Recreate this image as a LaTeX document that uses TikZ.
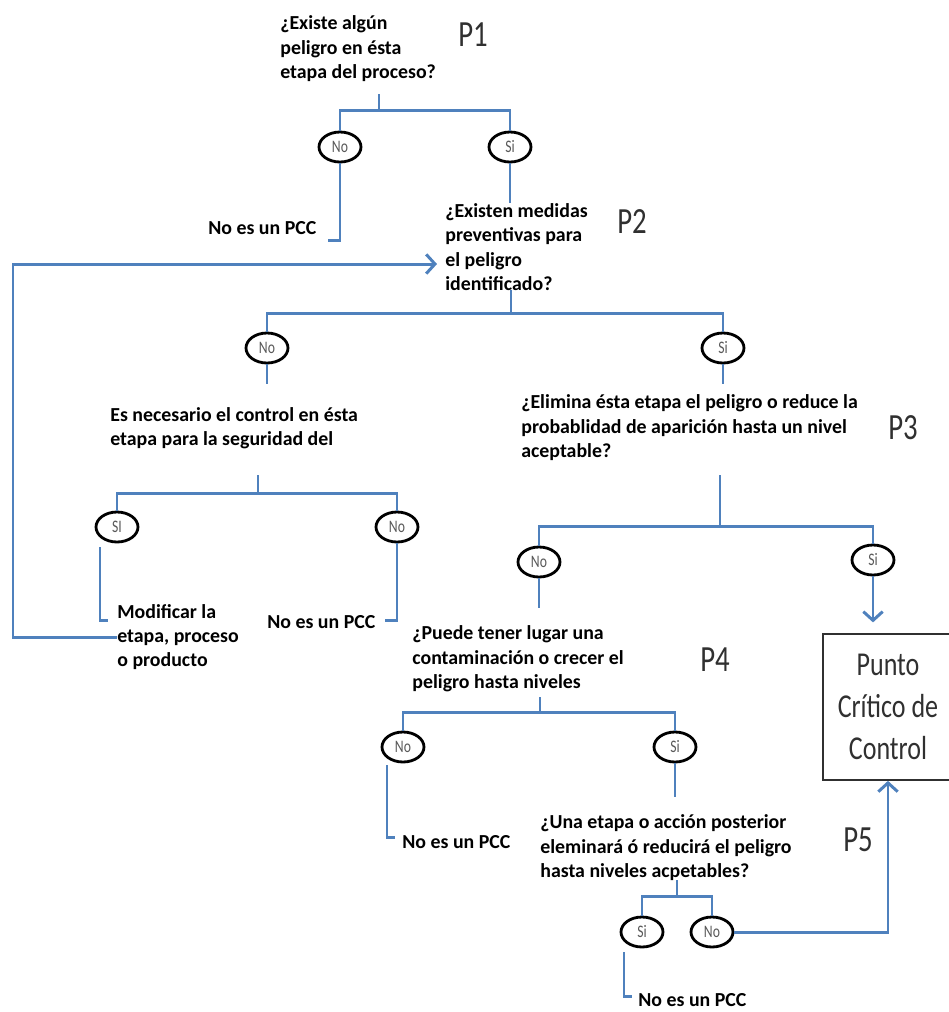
\documentclass[tikz,border=0pt]{standalone}
\usepackage{fontspec}
\setmainfont{Carlito}
\newfontfamily\narrowfont[FakeStretch=0.78]{Carlito}
\usetikzlibrary{shapes.geometric,arrows.meta}
\definecolor{linkblue}{HTML}{4F81BD}
\definecolor{labelgray}{HTML}{303030}
\definecolor{answergray}{HTML}{595959}
\tikzset{
    link/.style={linkblue,line width=1.7pt},
    arrowed/.style={-{Straight Barb[length=5pt,width=11pt]}},
    answer/.style={ellipse,draw=black,line width=1.6pt,minimum width=0.84cm,minimum height=0.6cm,inner sep=0pt,font=\narrowfont\fontsize{10}{10}\selectfont,text=answergray},
    question/.style={anchor=west,align=left,inner sep=0pt,font=\bfseries\fontsize{11.3}{13.9}\selectfont},
    qlabel/.style={font=\narrowfont\fontsize{21}{21}\selectfont,text=labelgray},
    pccbox/.style={draw=labelgray,line width=1pt,minimum width=2.6cm,minimum height=2.92cm,align=center,font=\narrowfont\fontsize{19}{24}\selectfont,text=labelgray}
}
\begin{document}
\begin{tikzpicture}[x=0.02cm,y=-0.02cm]
    \useasboundingbox (0,0) rectangle (948,1012);
    \node[question] (q1) at (280,49) {¿Existe algún\\peligro en ésta\\etapa del proceso?};
    \node[qlabel] (p1) at (473,35) {P1};
    \node[answer] (a1no) at (340,147) {No};
    \node[answer] (a1si) at (510,147) {Si};
    \node[question] (n1) at (208,228) {No es un PCC};
    \node[question] (q2) at (445,247) {¿Existen medidas\\preventivas para\\el peligro\\identificado?};
    \node[qlabel] (p2) at (632,222) {P2};
    \node[answer] (a2no) at (267,348) {No};
    \node[answer] (a2si) at (723,348) {Si};
    \node[question] (q2b) at (110,428) {Es necesario el control en ésta\\etapa para la seguridad del};
    \node[answer] (b2si) at (117,527) {SI};
    \node[answer] (b2no) at (397,527) {No};
    \node[question] (mod) at (117,637) {Modificar la\\etapa, proceso\\o producto};
    \node[question] (n2) at (267,622) {No es un PCC};
    \node[question] (q3) at (521,428) {¿Elimina ésta etapa el peligro o reduce la\\probablidad de aparición hasta un nivel\\aceptable?};
    \node[qlabel] (p3) at (903,428) {P3};
    \node[answer] (a3no) at (539,562) {No};
    \node[answer] (a3si) at (873,560) {Si};
    \node[pccbox] (pcc) at (888,707) {Punto\\Crítico de\\Control};
    \node[question] (q4) at (412,659) {¿Puede tener lugar una\\contaminación o crecer el\\peligro hasta niveles};
    \node[qlabel] (p4) at (715,660) {P4};
    \node[answer] (a4no) at (403,747) {No};
    \node[answer] (a4si) at (675,747) {Si};
    \node[question] (n3) at (402,842) {No es un PCC};
    \node[question] (q5) at (540,848) {¿Una etapa o acción posterior\\eleminará ó reducirá el peligro\\hasta niveles acpetables?};
    \node[qlabel] (p5) at (858,840) {P5};
    \node[answer] (a5si) at (642,932) {Si};
    \node[answer] (a5no) at (712,932) {No};
    \node[question] (n4) at (638,1000) {No es un PCC};

    \coordinate (s1) at (379,94);
    \coordinate (j1) at (379,110);
    \coordinate (e1) at (328,240);
    \draw[link] (s1) -- (j1);
    \draw[link] (a1no.north) |- (j1) -| (a1si.north);
    \draw[link] (a1no.south) |- (e1);
    \draw[link] (a1si.south) -- (a1si.south |- q2.north);

    \coordinate (s2) at (511,290);
    \coordinate (j2) at (511,313);
    \draw[link] (s2) -- (j2);
    \draw[link] (a2no.north) |- (j2) -| (a2si.north);
    \draw[link] (a2no.south) -- ++(0,20);
    \draw[link] (a2si.south) -- ++(0,20);

    \coordinate (s3) at (258,475);
    \coordinate (j3) at (258,493);
    \coordinate (e2) at (108,620);
    \coordinate (e3) at (385,620);
    \draw[link] (s3) -- (j3);
    \draw[link] (b2si.north) |- (j3) -| (b2no.north);
    \draw[link] (b2si.south) ++(-17,4) |- (e2);
    \draw[link] (b2no.south) |- (e3);

    \coordinate (f1) at (13,264);
    \coordinate (f2) at (437,264);
    \draw[link,arrowed] (mod.west) -| (f1) -- (f2);

    \coordinate (s4) at (720,475);
    \coordinate (j4) at (720,526);
    \draw[link] (s4) -- (j4);
    \draw[link] (a3no.north) |- (j4) -| (a3si.north);
    \draw[link] (a3no.south) -- ++(0,30);
    \draw[link,arrowed] (a3si.south) -- ++(0,46);

    \coordinate (s5) at (540,697);
    \coordinate (j5) at (540,712);
    \coordinate (e4) at (395,837);
    \draw[link] (s5) -- (j5);
    \draw[link] (a4no.north) |- (j5) -| (a4si.north);
    \draw[link] (a4no.south) ++(-16,2) |- (e4);
    \draw[link] (a4si.south) -- ++(0,34);

    \coordinate (s6) at (677,880);
    \coordinate (j6) at (677,896);
    \coordinate (e5) at (632,996);
    \draw[link] (s6) -- (j6);
    \draw[link] (a5si.north) |- (j6) -| (a5no.north);
    \draw[link] (a5si.south) ++(-18,4) |- (e5);
    \draw[link,arrowed] (a5no.east) -| (pcc.south);
\end{tikzpicture}
\end{document}
